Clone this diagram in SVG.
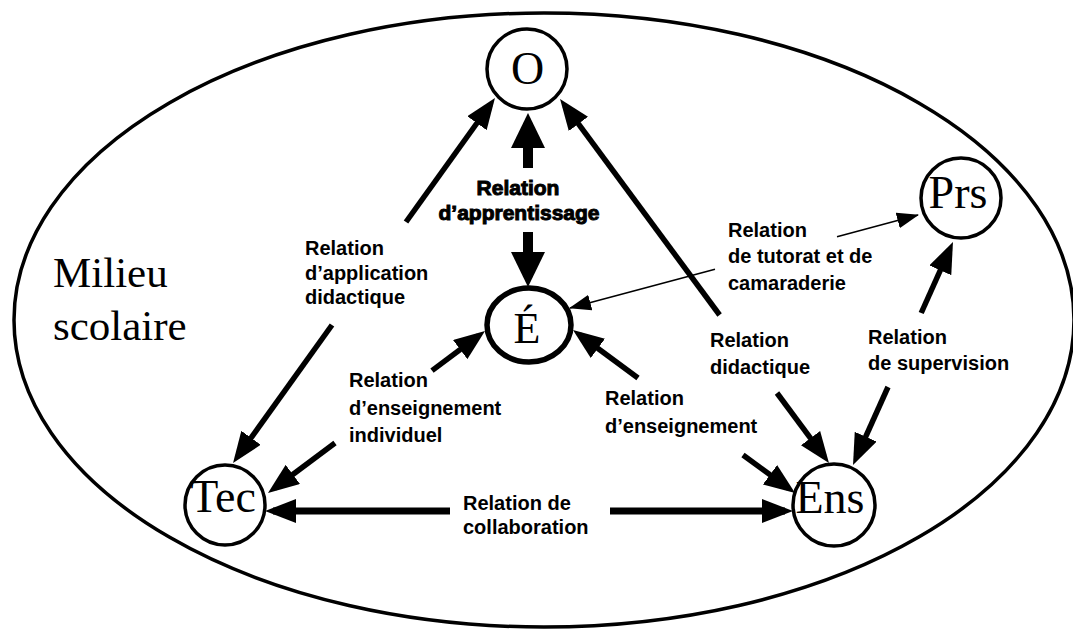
<svg xmlns="http://www.w3.org/2000/svg" width="1073" height="631" viewBox="0 0 1073 631">
  <style>
    .env { fill: none; stroke: #000; stroke-width: 3.5; }
    .node { fill: #fff; stroke: #000; stroke-width: 3.5; }
    .node-main { fill: #fff; stroke: #000; stroke-width: 5.5; }
    .serif { font-family: "Liberation Serif", "Times New Roman", serif; fill: #000; }
    .lbl { font-family: "Liberation Sans", Arial, Helvetica, sans-serif; font-size: 20px; font-weight: bold; fill: #000; }
    .lbl-strong { font-family: "Liberation Sans", Arial, Helvetica, sans-serif; font-size: 21px; font-weight: bold; fill: #000; stroke: #000; stroke-width: 1; text-anchor: middle; }
    .rel { fill: none; stroke: #000; stroke-width: 5.5; stroke-linecap: butt; marker-end: url(#head); }
    .rel-wide { fill: none; stroke: #000; stroke-width: 7; stroke-linecap: butt; marker-end: url(#head); }
    .rel-big { fill: none; stroke: #000; stroke-width: 10; stroke-linecap: butt; marker-end: url(#headBig); }
    .rel-thin { fill: none; stroke: #000; stroke-width: 1.6; marker-end: url(#headThin); }
  </style>
  <defs>
    <marker id="head" markerUnits="userSpaceOnUse" viewBox="0 0 31 24" refX="23" refY="12" markerWidth="31" markerHeight="24" orient="auto">
      <path d="M0,0 L31,12 L0,24 z" fill="#000"/>
    </marker>
    <marker id="headBig" markerUnits="userSpaceOnUse" viewBox="0 0 35 34" refX="25" refY="17" markerWidth="35" markerHeight="34" orient="auto">
      <path d="M0,0 L35,17 L0,34 z" fill="#000"/>
    </marker>
    <marker id="headThin" markerUnits="userSpaceOnUse" viewBox="0 0 22 16" refX="21" refY="8" markerWidth="22" markerHeight="16" orient="auto">
      <path d="M0,0 L22,8 L0,16 z" fill="#000"/>
    </marker>
  </defs>

  <rect width="1073" height="631" fill="#fff"/>

  <!-- school environment boundary -->
  <g id="milieu">
    <ellipse class="env" cx="544" cy="320" rx="530" ry="307"/>
    <text class="serif" x="53" y="287" font-size="43">Milieu</text>
    <text class="serif" x="53" y="340" font-size="43">scolaire</text>
  </g>

  <!-- relations -->
  <g id="connectors">
    <!-- apprentissage: É <-> O -->
    <line class="rel-big" x1="528" y1="168" x2="528" y2="123"/>
    <line class="rel-big" x1="528" y1="232" x2="528" y2="277"/>
    <!-- application didactique: O <-> Tec -->
    <line class="rel" x1="406" y1="222" x2="490.3" y2="104.5"/>
    <line class="rel" x1="332" y1="325" x2="237.7" y2="456.5"/>
    <!-- didactique: O <-> Ens -->
    <line class="rel" x1="719.6" y1="315" x2="564.8" y2="105.4"/>
    <line class="rel" x1="777" y1="393" x2="824.2" y2="456.6"/>
    <!-- tutorat et camaraderie: Prs <-> É -->
    <line class="rel-thin" x1="837" y1="236.7" x2="918" y2="215"/>
    <line class="rel-thin" x1="715" y1="269.3" x2="570" y2="308"/>
    <!-- supervision: Ens <-> Prs -->
    <line class="rel" x1="921.2" y1="313" x2="949.7" y2="249.3"/>
    <line class="rel" x1="888" y1="387" x2="856.3" y2="457.7"/>
    <!-- enseignement individuel: Tec <-> É -->
    <line class="rel" x1="432" y1="370.6" x2="478.6" y2="335.8"/>
    <line class="rel" x1="335" y1="443" x2="274.4" y2="488.2"/>
    <!-- enseignement: É <-> Ens -->
    <line class="rel" x1="638" y1="378" x2="579.4" y2="334.7"/>
    <line class="rel" x1="743" y1="455" x2="788.6" y2="488.3"/>
    <!-- collaboration: Tec <-> Ens -->
    <line class="rel-wide" x1="450" y1="511" x2="273" y2="511"/>
    <line class="rel-wide" x1="610" y1="511" x2="785" y2="511"/>
  </g>

  <!-- relation labels -->
  <g id="labels">
    <text class="lbl-strong" x="518" y="195">Relation</text>
    <text class="lbl-strong" x="519" y="220">d’apprentissage</text>

    <text class="lbl" x="305" y="255">Relation</text>
    <text class="lbl" x="305" y="280">d’application</text>
    <text class="lbl" x="305" y="304">didactique</text>

    <text class="lbl" x="728" y="237">Relation</text>
    <text class="lbl" x="728" y="263">de tutorat et de</text>
    <text class="lbl" x="728" y="290">camaraderie</text>

    <text class="lbl" x="710" y="347">Relation</text>
    <text class="lbl" x="710" y="374">didactique</text>

    <text class="lbl" x="868" y="344">Relation</text>
    <text class="lbl" x="868" y="370">de supervision</text>

    <text class="lbl" x="349" y="387">Relation</text>
    <text class="lbl" x="349" y="415">d’enseignement</text>
    <text class="lbl" x="349" y="442">individuel</text>

    <text class="lbl" x="605" y="405">Relation</text>
    <text class="lbl" x="605" y="433">d’enseignement</text>

    <text class="lbl" x="463" y="510">Relation de</text>
    <text class="lbl" x="463" y="534">collaboration</text>
  </g>

  <!-- actors -->
  <g id="node-O">
    <circle class="node" cx="527" cy="69" r="40"/>
    <text class="serif" x="527.5" y="84" font-size="46" text-anchor="middle">O</text>
  </g>
  <g id="node-E">
    <ellipse class="node-main" cx="529" cy="325" rx="42" ry="37"/>
    <text class="serif" x="527" y="343" font-size="44" text-anchor="middle">É</text>
  </g>
  <g id="node-Prs">
    <circle class="node" cx="961" cy="198" r="40"/>
    <text class="serif" x="958" y="208" font-size="46" text-anchor="middle">Prs</text>
  </g>
  <g id="node-Tec">
    <circle class="node" cx="225" cy="505" r="40"/>
    <text class="serif" x="223" y="512" font-size="46" text-anchor="middle">Tec</text>
  </g>
  <g id="node-Ens">
    <circle class="node" cx="834" cy="505" r="41"/>
    <text class="serif" x="830" y="513" font-size="46" text-anchor="middle">Ens</text>
  </g>
</svg>
